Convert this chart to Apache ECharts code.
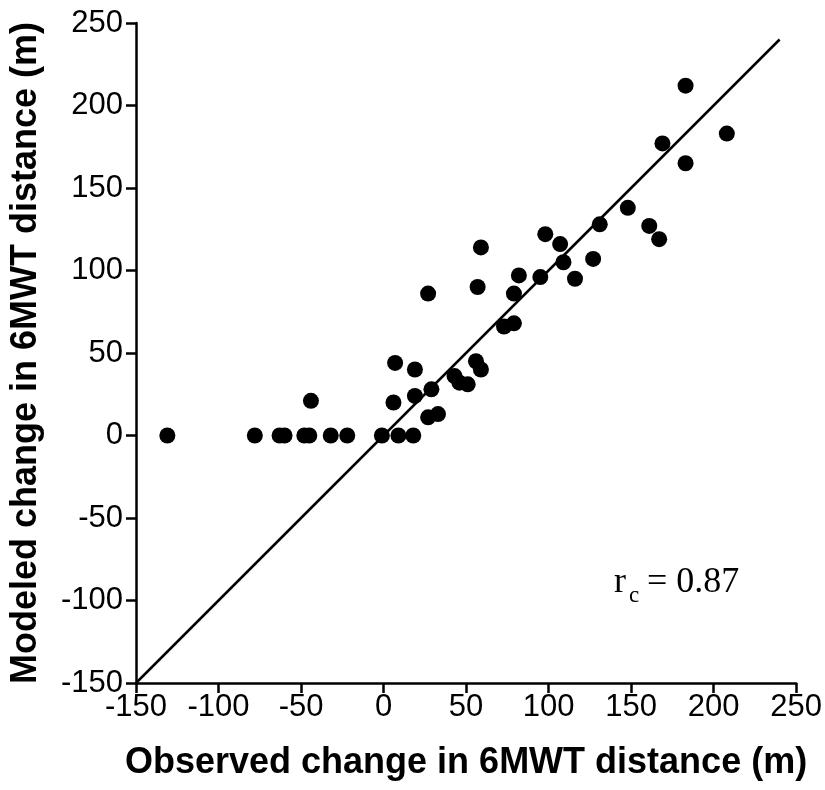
<!DOCTYPE html>
<html>
<head>
<meta charset="utf-8">
<script src="https://cdn.jsdelivr.net/npm/echarts@6/dist/echarts.min.js"></script>
<style>
html, body { margin: 0; padding: 0; background: #fff; }
#main { width: 825px; height: 790px; }
</style>
</head>
<body>
<div id="main"></div>
<script>
// observed (x) vs modeled (y) change in 6MWT distance
var observed = [-131, -78, -63, -60, -48, -45, -44, -32, -22, -1, 9, 18,
	6, 7, 19, 19, 29, 27, 33, 27, 43, 46, 51, 56, 59, 57, 59,
	73, 79, 79, 82, 95, 98, 107, 109, 116, 127, 131,
	148, 161, 167, 169, 183, 183, 208];
var modeled = [0, 0, 0, 0, 0, 0, 21, 0, 0, 0, 0, 0,
	20, 44, 40, 24, 28, 11, 13, 86, 36, 32, 31, 45, 40, 90, 114,
	66, 68, 86, 97, 96, 122, 116, 105, 95, 107, 128,
	138, 127, 119, 177, 212, 165, 183];
// line of identity
var lineX = [-150, 240];
var lineY = [-150, 240];
var ticks = [-150, 250, 50];

var points = [];
for (var i = 0; i < observed.length; i++) {
	points.push([observed[i], modeled[i]]);
}
var identity = [];
for (var j = 0; j < lineX.length; j++) {
	identity.push([lineX[j], lineY[j]]);
}

var dom = document.getElementById("main");
var myChart = echarts.init(dom);
var axisFont = 'Liberation Sans';
var option = {
	animation: false,
	backgroundColor: '#fff',
	grid: {
		left: 136,
		right: 28,
		top: 23,
		bottom: 107
	},
	xAxis: {
		type: 'value',
		min: ticks[0],
		max: ticks[1],
		interval: ticks[2],
		name: 'Observed change in 6MWT distance (m)',
		nameLocation: 'middle',
		nameGap: 62,
		nameTextStyle: { color: '#000', fontFamily: axisFont, fontWeight: 'bold', fontSize: 36 },
		axisLine: { onZero: false, lineStyle: { color: '#000', width: 2.5 } },
		axisTick: { length: 10, lineStyle: { color: '#000', width: 2.5 } },
		axisLabel: { color: '#000', fontFamily: axisFont, fontSize: 31, margin: 9 },
		splitLine: { show: false }
	},
	yAxis: {
		type: 'value',
		min: ticks[0],
		max: ticks[1],
		interval: ticks[2],
		name: 'Modeled change in 6MWT distance (m)',
		nameLocation: 'middle',
		nameGap: 92,
		nameTextStyle: { color: '#000', fontFamily: axisFont, fontWeight: 'bold', fontSize: 36 },
		axisLine: { onZero: false, lineStyle: { color: '#000', width: 2.5 } },
		axisTick: { length: 10, lineStyle: { color: '#000', width: 2.5 } },
		axisLabel: { color: '#000', fontFamily: axisFont, fontSize: 31, margin: 13 },
		splitLine: { show: false }
	},
	graphic: [
		{ type: 'text', left: 614, top: 565, style: { text: 'r', fill: '#000', font: '36px "Liberation Serif"' } },
		{ type: 'text', left: 629, top: 584, style: { text: 'c', fill: '#000', font: '23px "Liberation Serif"' } },
		{ type: 'text', left: 647, top: 565, style: { text: '= 0.87', fill: '#000', font: '36px "Liberation Serif"' } }
	],
	series: [{
		type: 'line',
		data: identity,
		symbol: 'none',
		silent: true,
		lineStyle: { color: '#000', width: 2.5 },
		z: 1
	}, {
		type: 'scatter',
		data: points,
		symbolSize: 16,
		itemStyle: { color: '#000', opacity: 1 },
		z: 2
	}]
};
myChart.setOption(option, true);
</script>
</body>
</html>
